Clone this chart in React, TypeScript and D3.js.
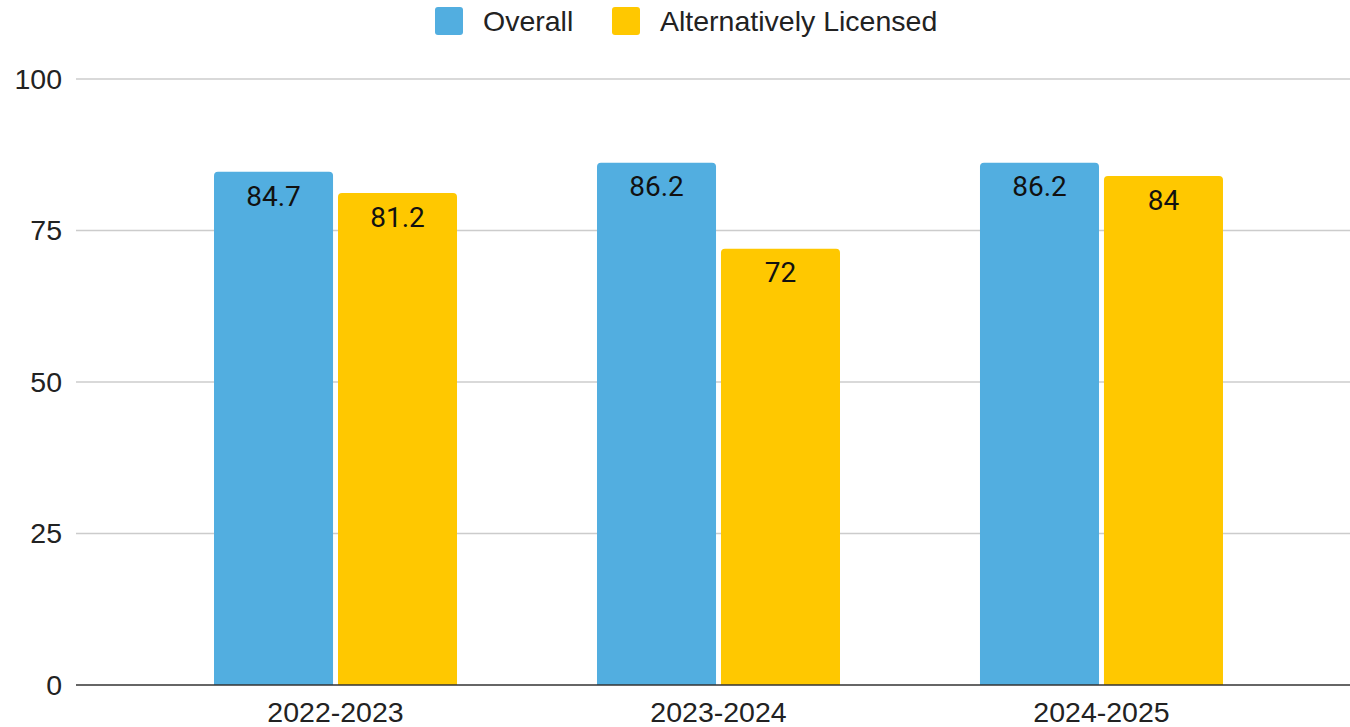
import React, { useEffect, useRef } from 'react';
import * as d3 from 'd3';

const categories = ['2022-2023', '2023-2024', '2024-2025'];
const seriesNames = ['Overall', 'Alternatively Licensed'];
const overall = [84.7, 86.2, 86.2];
const altLicensed = [81.2, 72, 84];
const yTicks = [0, 25, 50, 75, 100];
const colors = ['#52aee0', '#ffc800'];

const width = 1350;
const height = 727;

// path for a bar with rounded top corners only
const barPath = (x: number, y: number, w: number, h: number, r: number) =>
  `M${x},${y + h}V${y + r}Q${x},${y} ${x + r},${y}H${x + w - r}Q${x + w},${y} ${x + w},${y + r}V${y + h}Z`;

export default function App() {
  const svgRef = useRef<SVGSVGElement>(null);

  useEffect(() => {
    document.body.style.margin = '0';
    if (!svgRef.current) return;
    const svg = d3.select(svgRef.current);
    svg.selectAll('*').remove();

    const plotLeft = 76;
    const plotRight = 1350;
    const labelFont = 'Arial, "Liberation Sans", sans-serif';

    const yScale = d3.scaleLinear().domain([0, 100]).range([685, 79]);

    const xScale = d3.scaleBand<string>()
      .domain(categories)
      .range([144, 1293])
      .paddingInner(0.3655)
      .paddingOuter(0.1828);

    const xSub = d3.scaleBand<string>()
      .domain(seriesNames)
      .range([0, xScale.bandwidth()])
      .paddingInner(0.04);

    // gridlines
    svg.append('g')
      .selectAll('line')
      .data(yTicks.filter(t => t > 0))
      .enter()
      .append('line')
      .attr('x1', plotLeft)
      .attr('x2', plotRight)
      .attr('y1', d => yScale(d))
      .attr('y2', d => yScale(d))
      .attr('stroke', '#cccccc')
      .attr('stroke-width', 1.5);

    // y tick labels
    svg.append('g')
      .selectAll('text')
      .data(yTicks)
      .enter()
      .append('text')
      .attr('x', 62)
      .attr('y', d => yScale(d))
      .attr('dy', '0.35em')
      .attr('text-anchor', 'end')
      .style('font-family', labelFont)
      .style('font-size', '28.5px')
      .style('fill', '#222')
      .text(d => d);

    // bars
    const data = categories.map((c, i) => ({ cat: c, values: [overall[i], altLicensed[i]] }));
    data.forEach(d => {
      const g = svg.append('g').attr('transform', `translate(${xScale(d.cat)},0)`);
      d.values.forEach((v, j) => {
        const x = xSub(seriesNames[j])!;
        const y = yScale(v);
        const h = yScale(0) - y;
        g.append('path')
          .attr('d', barPath(x, y, xSub.bandwidth(), h, 4))
          .attr('fill', colors[j]);
        g.append('text')
          .attr('x', x + xSub.bandwidth() / 2)
          .attr('y', y + 24)
          .attr('dy', '0.35em')
          .attr('text-anchor', 'middle')
          .style('font-family', 'Roboto, sans-serif')
          .style('font-size', '28px')
          .style('fill', '#111')
          .text(v);
      });
    });

    // baseline
    svg.append('line')
      .attr('x1', plotLeft)
      .attr('x2', plotRight)
      .attr('y1', yScale(0))
      .attr('y2', yScale(0))
      .attr('stroke', '#333')
      .attr('stroke-width', 1.5);

    // x labels
    svg.append('g')
      .selectAll('text')
      .data(categories)
      .enter()
      .append('text')
      .attr('x', d => xScale(d)! + xScale.bandwidth() / 2)
      .attr('y', 722)
      .attr('text-anchor', 'middle')
      .style('font-family', labelFont)
      .style('font-size', '28.5px')
      .style('fill', '#222')
      .text(d => d);

    // legend
    const legendItems = [
      { name: seriesNames[0], x: 435 },
      { name: seriesNames[1], x: 612 },
    ];
    const legend = svg.append('g');
    legendItems.forEach((item, i) => {
      legend.append('rect')
        .attr('x', item.x)
        .attr('y', 7)
        .attr('width', 28)
        .attr('height', 28)
        .attr('rx', 3)
        .attr('fill', colors[i]);
      legend.append('text')
        .attr('x', item.x + 48)
        .attr('y', 21)
        .attr('dy', '0.35em')
        .style('font-family', labelFont)
        .style('font-size', '28.5px')
        .style('fill', '#222')
        .text(item.name);
    });
  }, []);

  return <svg ref={svgRef} width={width} height={height} style={{ display: 'block', background: '#fff' }} />;
}
